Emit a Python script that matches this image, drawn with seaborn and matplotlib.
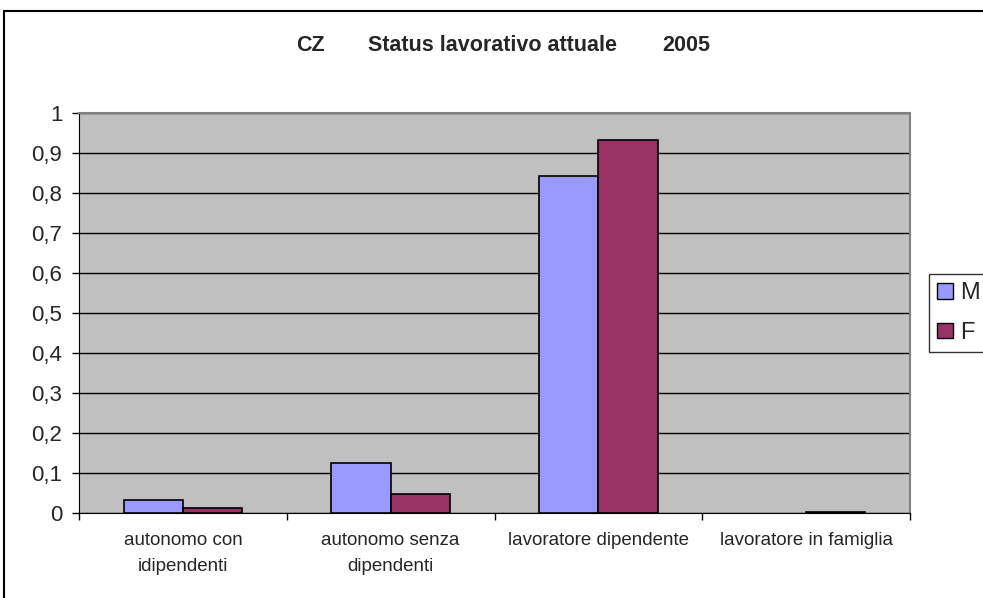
import matplotlib
matplotlib.use("Agg")
import matplotlib.pyplot as plt
import matplotlib.patches as mpatches
from matplotlib.ticker import FuncFormatter, FixedLocator
import seaborn as sns
import pandas as pd

# dati
categorie = ["autonomo con\nidipendenti", "autonomo senza\ndipendenti",
             "lavoratore dipendente", "lavoratore in famiglia"]
valori_m = [0.032, 0.125, 0.843, 0.0]
valori_f = [0.013, 0.048, 0.933, 0.003]
serie = ["M", "F"]
colori = ["#9999FF", "#993366"]
titolo = ["CZ", "Status lavorativo attuale", "2005"]

df = pd.DataFrame({
    "categoria": categorie * 2,
    "valore": valori_m + valori_f,
    "sesso": ["M"] * len(categorie) + ["F"] * len(categorie),
})

sns.set_style("white")
plt.rcParams["font.family"] = ["Liberation Sans", "DejaVu Sans"]

fig = plt.figure(figsize=(9.83, 5.98), dpi=100)
ax = fig.add_axes([79 / 983, 1 - 513 / 598, (910 - 79) / 983, 400 / 598])

sns.barplot(data=df, x="categoria", y="valore", hue="sesso", hue_order=serie,
            palette=colori, width=0.57, edgecolor="black", linewidth=1.2,
            saturation=1, errorbar=None, ax=ax, zorder=3)

# niente bordo per le barre a zero
for p in ax.patches:
    if p.get_height() == 0:
        p.set_linewidth(0)

ax.set_facecolor("#C0C0C0")
ax.set_ylim(0, 1)
ax.set_xlim(-0.5, len(categorie) - 0.5)
ax.yaxis.set_major_locator(FixedLocator([i / 10 for i in range(11)]))
ax.yaxis.set_major_formatter(FuncFormatter(lambda v, p: f"{v:.1f}".replace(".", ",").replace(",0", "")))
ax.grid(axis="y", color="black", linewidth=1, zorder=1)
ax.set_axisbelow(True)

# tacche tra le categorie
ax.xaxis.set_minor_locator(FixedLocator([i + 0.5 for i in range(-1, len(categorie))]))
ax.tick_params(axis="x", which="major", length=0, pad=14, labelsize=13.5)
ax.tick_params(axis="x", which="minor", length=5, width=1, color="black", bottom=True)
ax.tick_params(axis="y", length=5, width=1, color="black", left=True, labelsize=16, pad=7)

ax.set_xlabel("")
ax.set_ylabel("")
for lab in ax.get_xticklabels():
    lab.set_horizontalalignment("center")
    lab.set_multialignment("center")
    lab.set_linespacing(1.65)

for s in ["top", "right"]:
    ax.spines[s].set_color("#808080")
    ax.spines[s].set_linewidth(1.5)
ax.spines["left"].set_color("black")
ax.spines["bottom"].set_color("black")

ax.legend_.remove()
handles = [mpatches.Patch(facecolor=c, edgecolor="black", label=s) for c, s in zip(colori, serie)]
fig.legend(handles=handles, loc="center left", bbox_to_anchor=(929 / 983, 1 - 313 / 598),
           frameon=True, fancybox=False, edgecolor="black", fontsize=17,
           handlelength=0.65, handleheight=0.65, handletextpad=0.3, borderpad=0.35,
           labelspacing=0.75, borderaxespad=0)

# titolo in tre pezzi come nell'originale
y_tit = 1 - 51 / 598
fig.text(325 / 983, y_tit, titolo[0], ha="right", va="baseline", fontsize=15.5, fontweight="bold")
fig.text(493 / 983, y_tit, titolo[1], ha="center", va="baseline", fontsize=15.5, fontweight="bold")
fig.text(662 / 983, y_tit, titolo[2], ha="left", va="baseline", fontsize=15.5, fontweight="bold")

# bordo esterno del grafico
fig.patches.append(mpatches.Rectangle((4 / 983, -0.1), 1.2, 1 - 11 / 598 + 0.1,
                                      transform=fig.transFigure, fill=False,
                                      edgecolor="black", linewidth=1.5))

fig.savefig("out.png", dpi=100)
